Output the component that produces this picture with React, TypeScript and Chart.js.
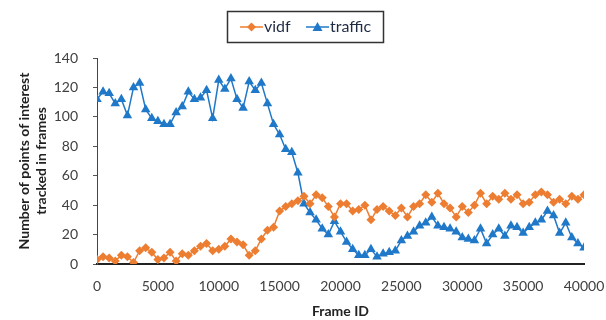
import React, { useEffect, useRef } from "react";
import { Chart, registerables } from "chart.js";

Chart.register(...registerables);

const frameIds: number[] = Array.from({ length: 81 }, (_, i) => i * 500);

const vidf: number[] = [
  3, 5, 4, 2, 6, 5, 1, 9, 11, 8,
  3, 4, 8, 2, 7, 6, 9, 12, 14, 9,
  10, 12, 17, 15, 13, 6, 9, 17, 23, 25,
  36, 39, 41, 43, 46, 41, 47, 45, 39, 32,
  41, 41, 36, 37, 40, 30, 37, 39, 36, 33,
  38, 32, 39, 41, 47, 42, 48, 41, 38, 32,
  39, 35, 40, 48, 41, 46, 44, 48, 44, 47,
  41, 42, 47, 49, 47, 42, 44, 41, 46, 44,
  47,
];

const traffic: number[] = [
  112, 117, 116, 109, 112, 101, 120, 123, 105, 99,
  97, 95, 95, 103, 107, 117, 112, 113, 118, 99,
  125, 119, 126, 112, 106, 124, 118, 123, 109, 95,
  88, 78, 76, 62, 41, 35, 30, 24, 20, 29,
  22, 15, 10, 6, 6, 10, 5, 7, 8, 9,
  16, 19, 22, 26, 28, 32, 26, 25, 24, 22,
  18, 17, 16, 24, 14, 20, 24, 19, 26, 25,
  21, 25, 28, 30, 36, 33, 21, 28, 18, 14,
  11,
];

const xTicks: number[] = [0, 5000, 10000, 15000, 20000, 25000, 30000, 35000, 40000];
const seriesNames: string[] = ["vidf", "traffic"];

const ORANGE = "#ED7D31";
const BLUE = "#1F78C8";
const FONT = "Lato, 'Open Sans', sans-serif";

const legendPlugin = {
  id: "boxLegend",
  afterDraw(chart: any) {
    const ctx = chart.ctx as CanvasRenderingContext2D;
    ctx.save();
    ctx.strokeStyle = "#333";
    ctx.lineWidth = 1.5;
    ctx.strokeRect(227.5, 11.5, 156, 31);
    const y = 27;
    ctx.strokeStyle = ORANGE;
    ctx.lineWidth = 1.5;
    ctx.beginPath();
    ctx.moveTo(240, y);
    ctx.lineTo(263, y);
    ctx.stroke();
    ctx.fillStyle = ORANGE;
    ctx.beginPath();
    ctx.moveTo(251.5, y - 4.5);
    ctx.lineTo(256, y);
    ctx.lineTo(251.5, y + 4.5);
    ctx.lineTo(247, y);
    ctx.closePath();
    ctx.fill();
    ctx.strokeStyle = BLUE;
    ctx.beginPath();
    ctx.moveTo(306, y);
    ctx.lineTo(329, y);
    ctx.stroke();
    ctx.fillStyle = BLUE;
    ctx.beginPath();
    ctx.moveTo(317.5, y - 5);
    ctx.lineTo(322.5, y + 4);
    ctx.lineTo(312.5, y + 4);
    ctx.closePath();
    ctx.fill();
    ctx.fillStyle = "#1f2a44";
    ctx.font = "16px " + FONT;
    ctx.textBaseline = "middle";
    ctx.textAlign = "left";
    ctx.fillText(seriesNames[0], 264, y);
    ctx.fillText(seriesNames[1], 330, y);
    ctx.restore();
  },
};

export default function App() {
  const ref = useRef<HTMLCanvasElement | null>(null);

  useEffect(() => {
    document.body.style.margin = "0";
    const canvas = ref.current;
    if (!canvas) return;
    const chart = new Chart(canvas, {
      type: "line",
      data: {
        datasets: [
          {
            label: seriesNames[0],
            data: frameIds.map((x, i) => ({ x, y: vidf[i] })),
            borderColor: ORANGE,
            backgroundColor: ORANGE,
            borderWidth: 1.5,
            pointStyle: "rectRot",
            pointRadius: 4.5,
            pointBorderWidth: 0,
            tension: 0,
          },
          {
            label: seriesNames[1],
            data: frameIds.map((x, i) => ({ x, y: traffic[i] })),
            borderColor: BLUE,
            backgroundColor: BLUE,
            borderWidth: 1.5,
            pointStyle: "triangle",
            pointRadius: 5.5,
            pointBorderWidth: 0,
            tension: 0,
          },
        ],
      },
      options: {
        responsive: false,
        animation: false,
        layout: { padding: { top: 58, right: 22, bottom: 0, left: 0 } },
        plugins: {
          legend: { display: false },
          tooltip: { enabled: false },
        },
        scales: {
          x: {
            type: "linear",
            min: 0,
            max: 40000,
            afterBuildTicks: (scale: any) => {
              scale.ticks = xTicks.map((v) => ({ value: v }));
            },
            afterFit: (scale: any) => {
              scale.height = 56;
              scale.paddingRight = 0;
              scale.paddingLeft = 0;
            },
            grid: { display: false, drawTicks: false },
            border: { display: true, color: "#222", width: 2 },
            ticks: {
              padding: 14,
              color: "#404040",
              font: { family: FONT, size: 14 },
              maxRotation: 0,
              autoSkip: false,
              callback: (v: any) => String(v),
            },
            title: {
              display: true,
              text: "Frame ID",
              color: "#222",
              font: { family: FONT, size: 14, weight: "bold" },
              padding: { top: 0, bottom: 0 },
            },
          },
          y: {
            min: 0,
            max: 140,
            afterFit: (scale: any) => {
              scale.width = 97;
            },
            ticks: {
              stepSize: 20,
              padding: 15,
              color: "#404040",
              font: { family: FONT, size: 14 },
            },
            grid: {
              drawOnChartArea: false,
              drawTicks: true,
              tickLength: 4,
              color: "#555",
            },
            border: { display: true, color: "#444", width: 1 },
            title: {
              display: true,
              text: ["Number of points of interest", "tracked in frames"],
              color: "#222",
              font: { family: FONT, size: 14, weight: "bold" },
              padding: { top: 16, bottom: 0 },
            },
          },
        },
      },
      plugins: [legendPlugin],
    });
    return () => chart.destroy();
  }, []);

  return (
    <div style={{ width: 606, height: 320 }}>
      <canvas ref={ref} width={606} height={320} />
    </div>
  );
}
